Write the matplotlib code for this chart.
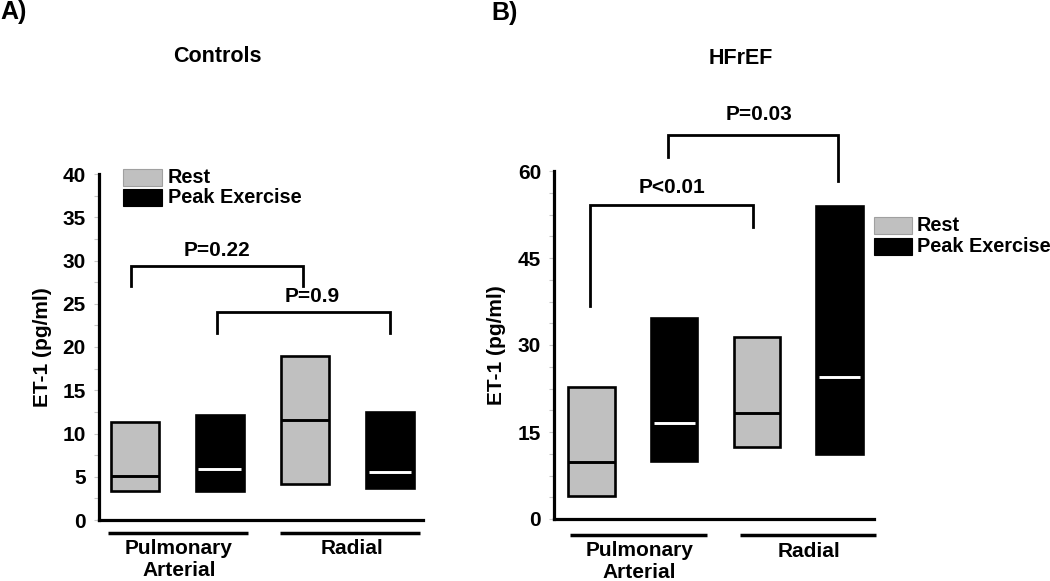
import matplotlib
matplotlib.use("Agg")
import numpy as np
import matplotlib.pyplot as plt
from matplotlib.patches import Rectangle
from matplotlib.transforms import blended_transform_factory

plt.rcParams['font.family'] = ['Liberation Sans', 'DejaVu Sans']
plt.rcParams['font.weight'] = 'bold'

# ---------------- data ----------------
groups = ['Pulmonary\nArterial', 'Radial']
conditions = ['Rest', 'Peak Exercise']
titles = ['Controls', 'HFrEF']
panel_letters = ['A)', 'B)']
ylabel = 'ET-1 (pg/ml)'

# order: PA rest, PA peak, Radial rest, Radial peak
ctrl_low = [3.3, 3.35, 4.2, 3.75]
ctrl_high = [11.35, 12.1, 19.0, 12.45]
ctrl_median = [5.1, 5.9, 11.55, 5.6]

hf_low = [3.97, 10.05, 12.35, 11.2]
hf_high = [22.8, 34.7, 31.4, 54.0]
hf_median = [9.9, 16.5, 18.3, 24.5]

ctrl_pvals = ['P=0.22', 'P=0.9']
hf_pvals = ['P<0.01', 'P=0.03']

ctrl_yticks = [0, 5, 10, 15, 20, 25, 30, 35, 40]
hf_yticks = [0, 15, 30, 45, 60]

# ---------------- style ----------------
GRAY = '#c0c0c0'
W, H = 1050, 581
fig = plt.figure(figsize=(10.5, 5.81), dpi=100)


def fx(px):
    return px / W


def fy(py):
    return 1 - py / H


def make_axes(left, right, top, bottom):
    return fig.add_axes([fx(left), fy(bottom), fx(right) - fx(left), fy(top) - fy(bottom)])


def draw_panel(ax, low, high, med, yticks, minor_step, xlim):
    x = [1, 2, 3, 4]
    colors = [GRAY, 'black', GRAY, 'black']
    width = 0.56
    heights = [h - l for h, l in zip(high, low)]
    ax.bar(x, heights, bottom=low, width=width, color=colors,
           edgecolor='black', linewidth=1.9, zorder=2)
    for xi, m, c in zip(x, med, colors):
        mc = 'white' if c == 'black' else 'black'
        inset = 0.03 if c == 'black' else 0.0
        ax.hlines(m, xi - width / 2 + inset, xi + width / 2 - inset,
                  color=mc, linewidth=2.1, zorder=3)
    ax.set_xlim(*xlim)
    ax.set_ylim(yticks[0], yticks[-1])
    ax.set_yticks(yticks)
    ax.set_yticks(np.arange(yticks[0], yticks[-1] + 1e-9, minor_step), minor=True)
    ax.set_xticks([])
    for s in ['top', 'right']:
        ax.spines[s].set_visible(False)
    for s in ['left', 'bottom']:
        ax.spines[s].set_linewidth(2.3)
    ax.tick_params(axis='y', which='both', length=3.6, width=0.8, color='#c8c8c8',
                   labelsize=15, pad=6)
    for lab in ax.get_yticklabels():
        lab.set_fontweight('bold')
    ax.patch.set_alpha(0)


def bracket(ax, x1, x2, ytop, yl1, yl2, text, tx, ty):
    ax.plot([x1, x1, x2, x2], [yl1, ytop, ytop, yl2], color='black',
            linewidth=2.0, clip_on=False, solid_joinstyle='miter', zorder=4)
    ax.text(tx, ty, text, ha='center', va='center', fontsize=15,
            fontweight='bold', clip_on=False)


def group_lines(ax, segs, line_py, label_specs):
    tr = blended_transform_factory(ax.transData, fig.transFigure)
    for (a, b) in segs:
        ax.plot([a, b], [fy(line_py), fy(line_py)], color='black',
                linewidth=2.5, transform=tr, clip_on=False, solid_capstyle='butt')
    for (gx, gpy), g in zip(label_specs, groups):
        ax.text(gx, fy(gpy), g, transform=tr, ha='center', va='center',
                fontsize=15, fontweight='bold', linespacing=1.2,
                multialignment='center')


def legend(left, top_gray, top_black, ph, pw, tx):
    for top, c, ec, lab in [(top_gray, GRAY, '#a0a0a0', conditions[0]),
                            (top_black, 'black', 'black', conditions[1])]:
        fig.patches.append(Rectangle((fx(left), fy(top + ph)), fx(left + pw) - fx(left),
                                     fy(top) - fy(top + ph), facecolor=c,
                                     edgecolor=ec, linewidth=0.8,
                                     transform=fig.transFigure, figure=fig))
        fig.text(fx(tx), fy(top + ph / 2), lab, ha='left', va='center',
                 fontsize=14.3, fontweight='bold')


# ---------------- Panel A ----------------
axA = make_axes(99, 423, 174, 520)
draw_panel(axA, ctrl_low, ctrl_high, ctrl_median, ctrl_yticks, 2.5, (0.58, 4.39))
bracket(axA, 0.955, 2.98, 29.4, 27.0, 27.0, ctrl_pvals[0], 1.97, 31.2)
bracket(axA, 1.97, 4.0, 24.0, 21.65, 21.65, ctrl_pvals[1], 3.09, 25.8)
group_lines(axA, [(0.688, 2.335), (2.71, 4.35)], 533, [(1.52, 559.5), (3.56, 548)])
fig.text(fx(43), fy(347), ylabel, rotation=90, ha='center', va='center',
         fontsize=15, fontweight='bold')
fig.text(fx(217.5), fy(57), titles[0], ha='center', va='center',
         fontsize=15.5, fontweight='bold')
fig.text(fx(14), fy(12), panel_letters[0], ha='center', va='center',
         fontsize=18, fontweight='bold')
legend(123, 169, 189, 17, 39, 168)

# ---------------- Panel B ----------------
axB = make_axes(554.4, 873.5, 171, 519)
draw_panel(axB, hf_low, hf_high, hf_median, hf_yticks, 3.75, (0.551, 4.41))
bracket(axB, 0.98, 2.955, 54.1, 36.7, 50.3, hf_pvals[0], 1.97, 57.1)
bracket(axB, 1.92, 3.98, 66.2, 62.4, 58.2, hf_pvals[1], 3.03, 69.8)
group_lines(axB, [(0.742, 2.397), (2.79, 4.445)], 535, [(1.577, 561), (3.635, 551.7)])
fig.text(fx(496), fy(345), ylabel, rotation=90, ha='center', va='center',
         fontsize=15, fontweight='bold')
fig.text(fx(741), fy(58), titles[1], ha='center', va='center',
         fontsize=15.5, fontweight='bold')
fig.text(fx(505), fy(13), panel_letters[1], ha='center', va='center',
         fontsize=18, fontweight='bold')
legend(874, 217.3, 238.3, 17, 38, 916.7)

fig.savefig('out.png', dpi=100)
